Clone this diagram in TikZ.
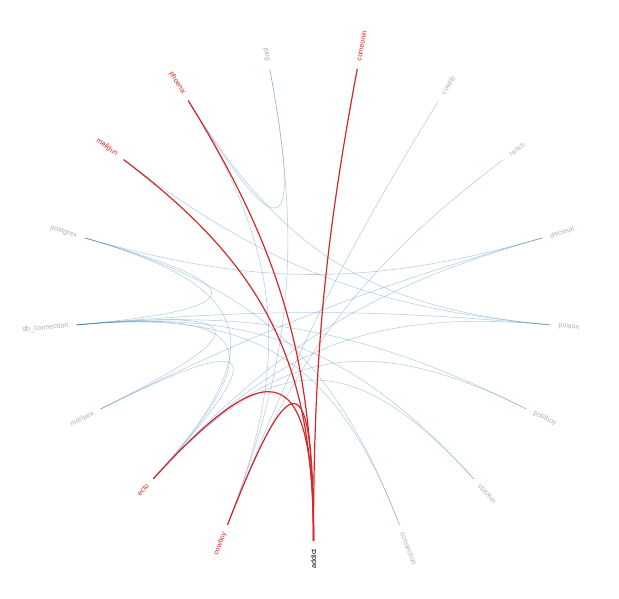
\documentclass[tikz,border=0pt]{standalone}
\usepackage{fontspec}
\setmainfont{Liberation Sans}
\usetikzlibrary{calc}

\definecolor{linkblue}{HTML}{4682B4}
\definecolor{hired}{HTML}{D62728}
\definecolor{labelgrey}{HTML}{B4ADA8}

\tikzset{
  lbl/.style={font=\fontsize{7.1}{8}\selectfont, text=labelgrey, inner sep=0pt},
  hilbl/.style={lbl, text=hired},
  bluelink/.style={linkblue, opacity=0.4, line width=0.55pt},
  redlink/.style={hired, line width=1.2pt}
}

% edge through the middle of the circle
\newcommand{\bundle}[3]{%
  \draw[#1] (p-#2) .. controls ($(0,0)!0.25!(p-#2)$) and ($(0,0)!0.25!(p-#3)$) .. (p-#3);}

\begin{document}
\begin{tikzpicture}[x=1pt, y=1pt]

  \useasboundingbox (0,0) rectangle (619,599);

  \begin{scope}[shift={(313.5,296)}]

  % End points round the circle
  \coordinate (p-addict)     at (-90:238);
  \coordinate (p-cowboy)     at (-111.18:238);
  \coordinate (p-ecto)       at (-132.35:238);
  \coordinate (p-mariaex)    at (-153.53:238);
  \coordinate (p-dbconn)     at (-174.71:238);
  \coordinate (p-postgrex)   at (-195.88:238);
  \coordinate (p-mailgun)    at (-217.06:238);
  \coordinate (p-phoenix)    at (-238.24:238);
  \coordinate (p-plug)       at (-259.41:238);
  \coordinate (p-comeonin)   at (79.41:238);
  \coordinate (p-cowlib)     at (58.24:238);
  \coordinate (p-ranch)      at (37.06:238);
  \coordinate (p-decimal)    at (15.88:238);
  \coordinate (p-poison)     at (-5.29:238);
  \coordinate (p-poolboy)    at (-26.47:238);
  \coordinate (p-sbroker)    at (-47.65:238);
  \coordinate (p-connection) at (-68.82:238);

  % Labels, left half
  \node[lbl, text=black, anchor=east, rotate=90] (addict) at (-90:246) {addict};
  \node[hilbl, anchor=east, rotate=68.82] (cowboy) at (-111.18:246) {cowboy};
  \node[hilbl, anchor=east, rotate=47.65] (ecto) at (-132.35:246) {ecto};
  \node[lbl, anchor=east, rotate=26.47] (mariaex) at (-153.53:246) {mariaex};
  \node[lbl, anchor=east, rotate=5.29] (dbconn) at (-174.71:246) {db\_connection};
  \node[lbl, anchor=east, rotate=-15.88] (postgrex) at (-195.88:246) {postgrex};
  \node[hilbl, anchor=east, rotate=-37.06] (mailgun) at (-217.06:246) {mailgun};
  \node[hilbl, anchor=east, rotate=-58.24] (phoenix) at (-238.24:246) {phoenix};
  \node[lbl, anchor=east, rotate=-79.41] (plug) at (-259.41:246) {plug};

  % Labels, right half
  \node[hilbl, anchor=west, rotate=79.41] (comeonin) at (79.41:246) {comeonin};
  \node[lbl, anchor=west, rotate=58.24] (cowlib) at (58.24:246) {cowlib};
  \node[lbl, anchor=west, rotate=37.06] (ranch) at (37.06:246) {ranch};
  \node[lbl, anchor=west, rotate=15.88] (decimal) at (15.88:246) {decimal};
  \node[lbl, anchor=west, rotate=-5.29] (poison) at (-5.29:246) {poison};
  \node[lbl, anchor=west, rotate=-26.47] (poolboy) at (-26.47:246) {poolboy};
  \node[lbl, anchor=west, rotate=-47.65] (sbroker) at (-47.65:246) {sbroker};
  \node[lbl, anchor=west, rotate=-68.82] (connection) at (-68.82:246) {connection};

  % Other links
  \bundle{bluelink}{phoenix}{plug}
  \bundle{bluelink}{phoenix}{poison}
  \bundle{bluelink}{phoenix}{cowboy}
  \bundle{bluelink}{plug}{cowboy}
  \bundle{bluelink}{cowboy}{cowlib}
  \bundle{bluelink}{cowboy}{ranch}
  \bundle{bluelink}{mailgun}{poison}
  \bundle{bluelink}{postgrex}{decimal}
  \bundle{bluelink}{postgrex}{dbconn}
  \bundle{bluelink}{postgrex}{connection}
  \bundle{bluelink}{mariaex}{dbconn}
  \bundle{bluelink}{mariaex}{decimal}
  \bundle{bluelink}{dbconn}{connection}
  \bundle{bluelink}{dbconn}{poolboy}
  \bundle{bluelink}{dbconn}{sbroker}
  \bundle{bluelink}{dbconn}{poison}
  \bundle{bluelink}{ecto}{poison}
  \bundle{bluelink}{ecto}{decimal}
  \bundle{bluelink}{ecto}{poolboy}
  \bundle{bluelink}{ecto}{postgrex}
  \bundle{bluelink}{ecto}{mariaex}
  \bundle{bluelink}{ecto}{dbconn}
  \bundle{bluelink}{ecto}{sbroker}

  % Links of addict
  \bundle{redlink}{addict}{comeonin}
  \bundle{redlink}{addict}{phoenix}
  \bundle{redlink}{addict}{mailgun}
  \bundle{redlink}{addict}{ecto}
  \bundle{redlink}{addict}{cowboy}

  \end{scope}

\end{tikzpicture}
\end{document}
